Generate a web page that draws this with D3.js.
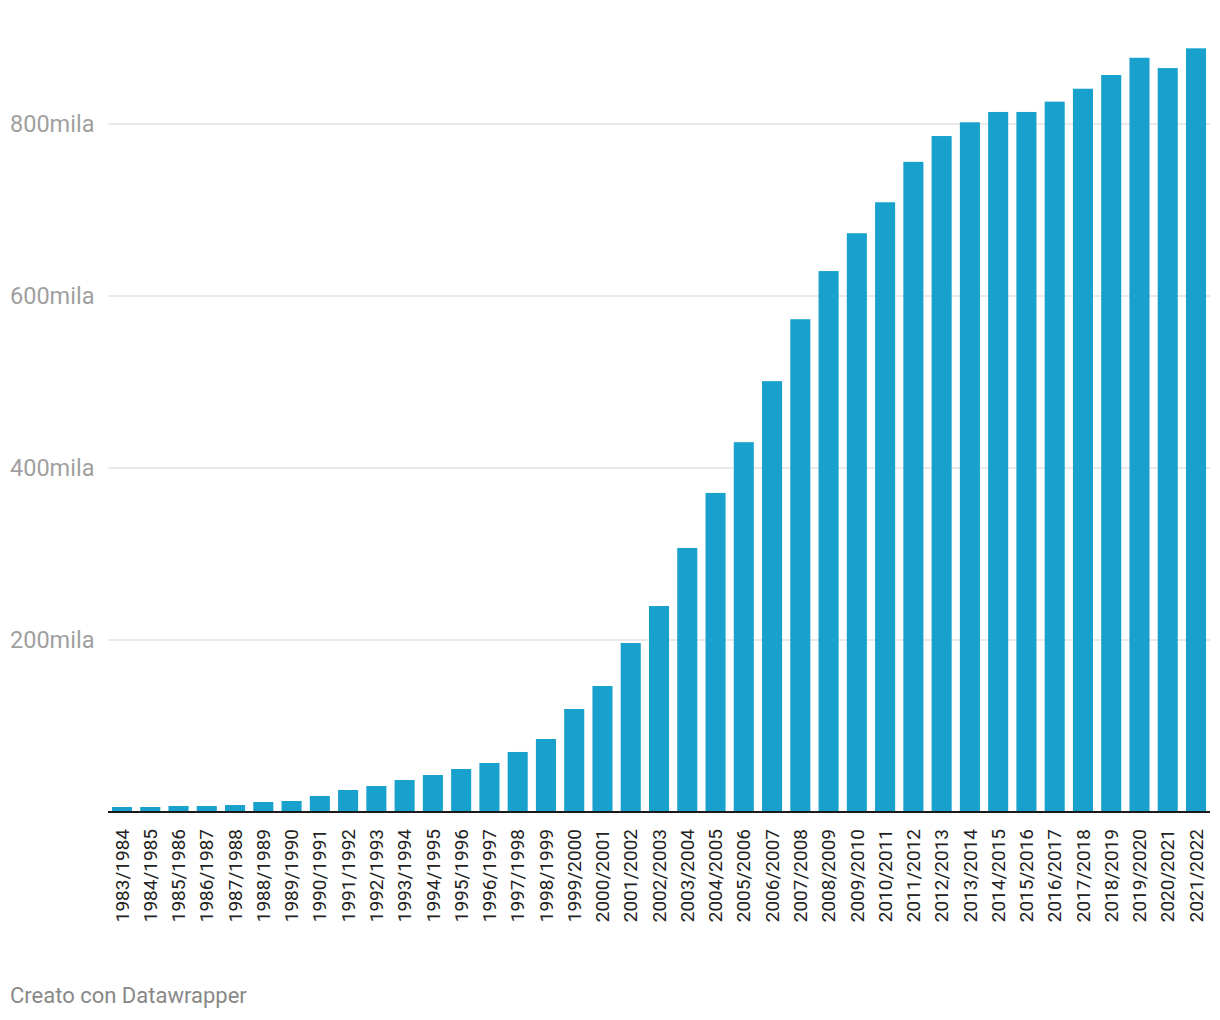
<!DOCTYPE html>
<html>
<head>
<meta charset="utf-8">
<script src="https://cdn.jsdelivr.net/npm/d3@7"></script>
<style>
  html, body { margin: 0; padding: 0; background: #fff; }
  svg { display: block; font-family: Roboto, "Noto Sans", sans-serif; }
</style>
</head>
<body>
<svg id="chart" width="1220" height="1020"></svg>
<script>
const categories = ["1983/1984","1984/1985","1985/1986","1986/1987","1987/1988","1988/1989","1989/1990","1990/1991","1991/1992","1992/1993","1993/1994","1994/1995","1995/1996","1996/1997","1997/1998","1998/1999","1999/2000","2000/2001","2001/2002","2002/2003","2003/2004","2004/2005","2005/2006","2006/2007","2007/2008","2008/2009","2009/2010","2010/2011","2011/2012","2012/2013","2013/2014","2014/2015","2015/2016","2016/2017","2017/2018","2018/2019","2019/2020","2020/2021","2021/2022"];
const values = [5800, 5800, 7000, 7000, 8100, 11600, 12800, 18600, 25600, 30200, 37200, 43000, 50000, 57000, 69800, 84900, 119800, 146500, 196500, 239500, 307000, 371000, 430000, 501000, 573000, 629000, 673000, 709000, 756000, 786000, 802000, 814000, 814000, 826000, 841000, 857000, 877000, 865000, 888000];
const yTicks = [200000, 400000, 600000, 800000];
const yTickLabels = ["200mila", "400mila", "600mila", "800mila"];
const footer = "Creato con Datawrapper";

const svg = d3.select("#chart");
const left = 108, right = 1210, baseline = 812, top0 = 124;

const x = d3.scaleBand().domain(categories).range([left, right]).paddingInner(0.29).paddingOuter(0.14);
const y = d3.scaleLinear().domain([0, 800000]).range([baseline, top0]);

// gridlines
svg.append("g").selectAll("line").data(yTicks).join("line")
  .attr("x1", left).attr("x2", right)
  .attr("y1", d => y(d)).attr("y2", d => y(d))
  .attr("stroke", "#e3e3e3").attr("stroke-width", 1.5);

// y labels
svg.append("g").selectAll("text").data(yTicks).join("text")
  .attr("x", 10).attr("y", d => y(d))
  .attr("dy", "0.35em")
  .attr("font-size", 23.5).attr("fill", "#a0a0a0")
  .text((d, i) => yTickLabels[i]);

// bars
svg.append("g").selectAll("rect").data(values).join("rect")
  .attr("x", (d, i) => x(categories[i]))
  .attr("width", x.bandwidth())
  .attr("y", d => y(d))
  .attr("height", d => baseline - y(d))
  .attr("fill", "#18a1cd");

// axis line
svg.append("line").attr("x1", left).attr("x2", right)
  .attr("y1", baseline).attr("y2", baseline)
  .attr("stroke", "#1a1a1a").attr("stroke-width", 2);

// x labels
svg.append("g").selectAll("text").data(categories).join("text")
  .attr("transform", d => `translate(${x(d) + x.bandwidth() / 2},829) rotate(-90)`)
  .attr("text-anchor", "end")
  .attr("dy", "0.35em")
  .attr("font-size", 19).attr("fill", "#222")
  .text(d => d);

// footer
svg.append("text").attr("x", 10).attr("y", 1003)
  .attr("font-size", 22).attr("fill", "#888")
  .text(footer);
</script>
</body>
</html>
